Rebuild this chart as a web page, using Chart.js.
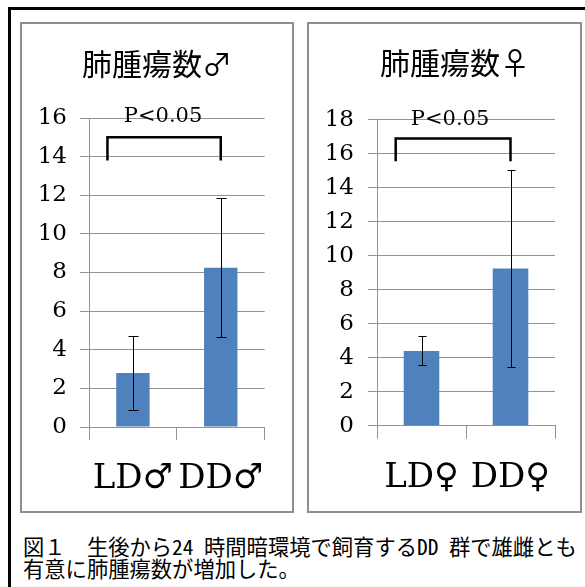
<!DOCTYPE html>
<html>
<head>
<meta charset="utf-8">
<script src="https://cdn.jsdelivr.net/npm/chart.js@4"></script>
<style>
  html, body { margin: 0; padding: 0; background: #fff; overflow: hidden; }
  body { width: 585px; height: 587px; position: relative; }
  #frame { position: absolute; left: 8px; top: 7px; width: 620px; height: 620px;
           border: 3px solid #000; box-sizing: border-box; }
  .panel { position: absolute; top: 22px; height: 491px; border: 2px solid #8e8e8e; box-sizing: border-box; }
  #panelMale { left: 20px; width: 274px; }
  #panelFemale { left: 307px; width: 275px; }
  canvas { position: absolute; }
  #chartMale { left: 22px; top: 24px; }
  #chartFemale { left: 309px; top: 24px; }
  #caption { position: absolute; left: 23px; top: 535px; color: #000; white-space: pre;
             font-family: "Noto Sans Mono CJK JP", "Noto Sans CJK JP", monospace;
             font-size: 21.3px; line-height: 22px; }
</style>
</head>
<body>
<div id="frame"></div>
<div class="panel" id="panelMale"></div>
<div class="panel" id="panelFemale"></div>
<canvas id="chartMale" width="270" height="487"></canvas>
<canvas id="chartFemale" width="271" height="487"></canvas>
<div id="caption">図１　生後から24 時間暗環境で飼育するDD 群で雄雌とも
有意に肺腫瘍数が増加した。</div>
<script>
// Lung tumour counts (mean ± SD), light/dark rearing groups
const maleLabels = ['LD♂', 'DD♂'];
const maleMeans = [2.8, 8.25];
const maleSD = [1.9, 3.6];
const maleTicks = [0, 2, 4, 6, 8, 10, 12, 14, 16];

const femaleLabels = ['LD♀', 'DD♀'];
const femaleMeans = [4.4, 9.25];
const femaleSD = [0.85, 5.8];
const femaleTicks = [0, 2, 4, 6, 8, 10, 12, 14, 16, 18];

// significance bracket: top line and foot of the legs (y values)
const maleBracket = [15.0, 13.8];
const femaleBracket = [16.9, 15.55];
const pText = 'P<0.05';

const GRID = '#939393';
const BLUE = '#4f81bd';
const SERIF = '"DejaVu Serif", "Liberation Serif", serif';

// Panel heading, centred on the panel with an optional horizontal shift
const panelTitle = {
  id: 'panelTitle',
  afterDraw(chart, args, opts) {
    const ctx = chart.ctx;
    ctx.save();
    ctx.fillStyle = '#000';
    ctx.font = '30px "Noto Sans CJK JP", sans-serif';
    ctx.textAlign = 'center';
    ctx.textBaseline = 'middle';
    ctx.fillText(opts.text, chart.width / 2 + opts.shift, opts.y);
    ctx.restore();
  }
};

// Draws the SD whiskers and the P-value bracket from the data
const annotations = {
  id: 'annotations',
  afterDatasetsDraw(chart, args, opts) {
    const { ctx, scales: { x, y } } = chart;
    const ds = chart.data.datasets[0];
    ctx.save();
    ctx.strokeStyle = '#000';
    ctx.lineWidth = 1;
    ds.data.forEach((m, i) => {
      const sd = opts.sd[i];
      const px = Math.round(x.getPixelForValue(i)) + 0.5;
      const top = Math.round(y.getPixelForValue(m + sd)) + 0.5;
      const bot = Math.round(y.getPixelForValue(m - sd)) + 0.5;
      ctx.beginPath();
      ctx.moveTo(px, top); ctx.lineTo(px, bot);
      ctx.moveTo(px - opts.cap, top); ctx.lineTo(px + opts.cap, top);
      ctx.moveTo(px - opts.cap, bot); ctx.lineTo(px + opts.cap, bot);
      ctx.stroke();
    });
    const [bTop, bFoot] = opts.bracket;
    const step = x.getPixelForValue(1) - x.getPixelForValue(0);
    const x1 = x.getPixelForValue(0) - opts.lead * step;
    const x2 = x.getPixelForValue(1);
    const yT = y.getPixelForValue(bTop);
    const yF = y.getPixelForValue(bFoot);
    ctx.lineWidth = 2.5;
    ctx.lineJoin = 'miter';
    ctx.beginPath();
    ctx.moveTo(x1, yF); ctx.lineTo(x1, yT); ctx.lineTo(x2, yT); ctx.lineTo(x2, yF);
    ctx.stroke();
    ctx.fillStyle = '#000';
    ctx.font = '21px ' + SERIF;
    ctx.textAlign = 'center';
    ctx.textBaseline = 'alphabetic';
    ctx.fillText(opts.text, (x1 + x2) / 2 + opts.textShift, yT - opts.textGap);
    ctx.restore();
  }
};

function makeChart(id, cfg) {
  return new Chart(document.getElementById(id), {
    type: 'bar',
    data: {
      labels: cfg.labels,
      datasets: [{ data: cfg.means, backgroundColor: BLUE, borderWidth: 0,
                   barPercentage: cfg.barPct, categoryPercentage: 1 }]
    },
    options: {
      responsive: false,
      animation: false,
      events: [],
      layout: { padding: { left: 0, right: cfg.padRight, top: cfg.padTop, bottom: 0 } },
      plugins: {
        legend: { display: false },
        tooltip: { enabled: false },
        title: { display: false },
        panelTitle: { text: cfg.title, shift: cfg.titleShift, y: cfg.titleY },
        annotations: { sd: cfg.sd, cap: cfg.cap, bracket: cfg.bracket, lead: 0.29,
                       text: pText, textGap: cfg.textGap, textShift: cfg.textShift }
      },
      scales: {
        x: {
          grid: { offset: true, drawOnChartArea: false, drawTicks: true, tickLength: 13, color: GRID },
          border: { display: true, color: GRID },
          ticks: { color: '#000', font: { family: SERIF, size: 34, lineHeight: 1 }, padding: cfg.xPad,
                   maxRotation: 0, minRotation: 0, autoSkip: false },
          afterFit(axis) { axis.height = cfg.xHeight; }
        },
        y: {
          min: 0, max: cfg.ticks[cfg.ticks.length - 1],
          afterBuildTicks(axis) { axis.ticks = cfg.ticks.map(v => ({ value: v })); },
          grid: { color: GRID, tickLength: 9 },
          border: { display: true, color: GRID },
          ticks: { color: '#000', font: { family: SERIF, size: 23 }, padding: cfg.yPad },
          afterFit(axis) { axis.width = cfg.yWidth; }
        }
      }
    },
    plugins: [annotations, panelTitle]
  });
}

makeChart('chartMale', {
  labels: maleLabels, means: maleMeans, sd: maleSD, ticks: maleTicks, bracket: maleBracket,
  title: '肺腫瘍数♂', titleShift: 0, titleY: 40, barPct: 0.38, cap: 5,
  padRight: 27, padTop: 94, yWidth: 67, yPad: 13,
  xHeight: 84, xPad: 22, textGap: 15, textShift: -1
});

makeChart('chartFemale', {
  labels: femaleLabels, means: femaleMeans, sd: femaleSD, ticks: femaleTicks, bracket: femaleBracket,
  title: '肺腫瘍数♀', titleShift: 10.5, titleY: 39, barPct: 0.40, cap: 4,
  padRight: 25, padTop: 95.7, yWidth: 68, yPad: 14,
  xHeight: 85.3, xPad: 22, textGap: 13, textShift: -3
});
</script>
</body>
</html>
